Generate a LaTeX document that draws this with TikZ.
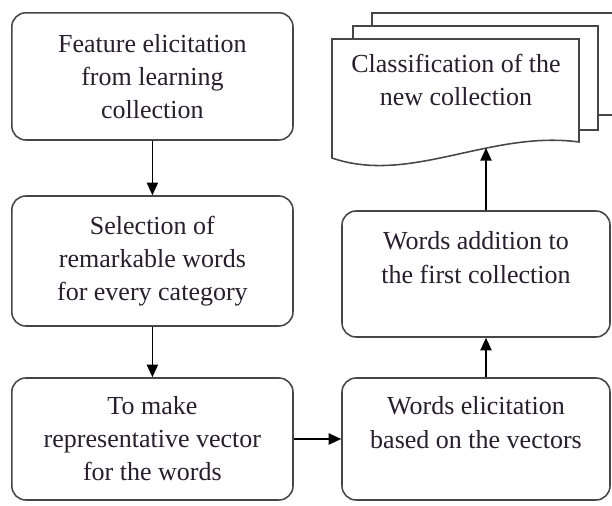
\documentclass[tikz,border=0pt]{standalone}
\usepackage{fontspec}
\setmainfont{Liberation Serif}
\usetikzlibrary{arrows.meta,positioning,calc}
\definecolor{fcline}{RGB}{70,70,70}
\definecolor{fctext}{RGB}{40,30,45}

\begin{document}
\begin{tikzpicture}[
  sbox/.style={rectangle, rounded corners=10pt, draw=fcline, line width=1.1pt,
               fill=white, minimum width=7.03cm, minimum height=3.15cm,
               font=\fontsize{18.5}{23.5}\selectfont, align=center, text=fctext},
  dsheet/.style={draw=fcline, line width=1.1pt, fill=white},
  farr/.style={-{Triangle[length=9pt,width=8pt]}, line width=1.1pt}
]
\useasboundingbox (0,0) rectangle (15.3,12.65);

% Left column
\node[sbox, minimum height=3.18cm] (feat) at (3.81,10.74) {Feature elicitation\\from learning\\collection};
\node[sbox, minimum height=3.25cm] (sel)  at (3.81,6.125) {Selection of\\remarkable words\\for every category};
\node[sbox, minimum height=3.05cm] (vec)  at (3.81,1.675) {To make\\representative vector\\for the words};

% Right column
\node[sbox, minimum width=6.7cm, minimum height=3.05cm] (elic) at (11.9,1.675) {Words elicitation\\based on the vectors\\\mbox{}};
\node[sbox, minimum width=6.7cm, minimum height=3.15cm] (addw) at (11.9,5.8) {Words addition to\\the first collection\\\mbox{}};

% Document stack
\draw[dsheet] (9.3,9.775) rectangle (15.6,12.325);
\draw[dsheet] (8.825,9.4) rectangle (14.95,12.0);
\draw[dsheet] (8.3,11.675) -- (14.475,11.675) -- (14.475,9.1)
  .. controls (12.25,9.4) and (10.25,8.025) .. (8.3,8.7) -- cycle;
\node[font=\fontsize{18.5}{23.5}\selectfont, align=center, text=fctext] (cls) at (11.4,10.65) {Classification of the\\new collection};
\coordinate (clsbot) at (12.15,8.95);

% Arrows
\draw[farr] (feat) -- (sel);
\draw[farr] (sel)  -- (vec);
\draw[farr] (vec)  -- (elic);
\draw[farr] ([xshift=0.25cm]elic.north) -- ([xshift=0.25cm]addw.south);
\draw[farr] ([xshift=0.25cm]addw.north) -- (clsbot);
\end{tikzpicture}
\end{document}
